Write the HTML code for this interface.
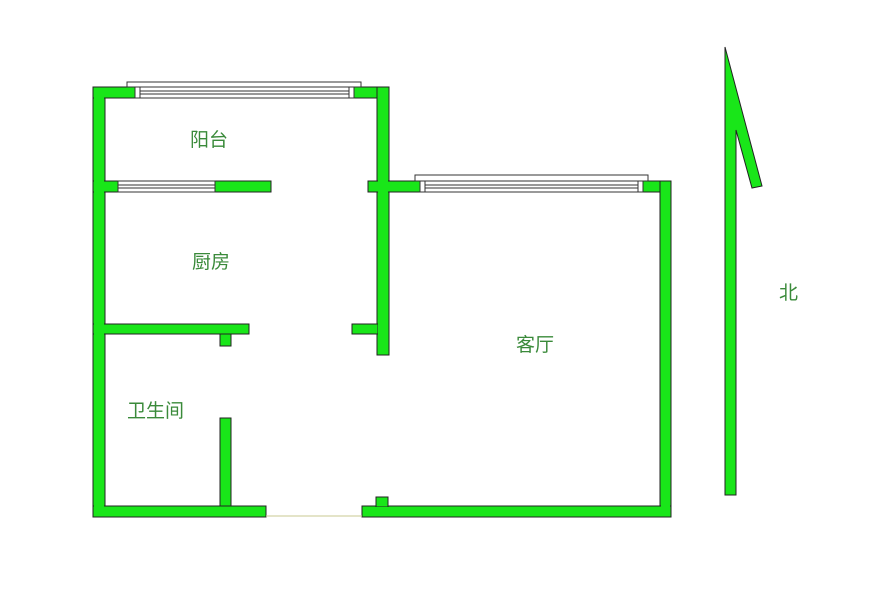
<!DOCTYPE html>
<html><head><meta charset="utf-8"><style>
body{margin:0;background:#fff;}
svg text{font-family:"Liberation Sans","Noto Sans CJK SC",sans-serif;fill:#3a8a3a;font-size:19px;}
</style></head><body>
<svg width="871" height="600" viewBox="0 0 871 600" xmlns="http://www.w3.org/2000/svg">
<g fill="#19e619" stroke="#222" stroke-width="1">
<rect x="93" y="87" width="12" height="430"/>
<rect x="93" y="87" width="42" height="11"/>
<rect x="354" y="87" width="35" height="11"/>
<rect x="377" y="87" width="12" height="268"/>
<rect x="368" y="181" width="52" height="11"/>
<rect x="215" y="181" width="56" height="11"/>
<rect x="93" y="181" width="25" height="11"/>
<rect x="643" y="181" width="28" height="11"/>
<rect x="660" y="181" width="11" height="336"/>
<rect x="93" y="324" width="156" height="10"/>
<rect x="220" y="334" width="11" height="12"/>
<rect x="352" y="324" width="26" height="10"/>
<rect x="220" y="418" width="11" height="92"/>
<rect x="93" y="506" width="173" height="11"/>
<rect x="362" y="506" width="309" height="11"/>
<rect x="376" y="497" width="12" height="10"/>
<polygon points="725,47 762,186 752,188 736,130 736,495 725,495"/>
</g>
<g fill="#19e619" stroke="none">
<rect x="94" y="88" width="10" height="428"/>
<rect x="94" y="507" width="171" height="9"/>
<rect x="363" y="507" width="307" height="9"/>
<rect x="661" y="182" width="9" height="334"/>
<rect x="378" y="88" width="10" height="266"/>
<rect x="94" y="325" width="154" height="8"/>
<rect x="94" y="182" width="23" height="9"/>
<rect x="369" y="182" width="50" height="9"/>
</g>
<g fill="#fff" stroke="#333" stroke-width="1">
<rect x="127" y="82" width="234" height="5"/>
<rect x="135" y="87" width="219" height="11"/>
<rect x="135" y="87" width="5" height="11"/>
<rect x="349" y="87" width="5" height="11"/>
<line x1="140" y1="91" x2="349" y2="91"/><line x1="140" y1="94" x2="349" y2="94"/>
<rect x="118" y="181" width="97" height="11"/>
<line x1="118" y1="185" x2="215" y2="185"/><line x1="118" y1="188" x2="215" y2="188"/>
<rect x="415" y="175" width="233" height="6"/>
<rect x="420" y="181" width="223" height="11"/>
<rect x="420" y="181" width="5" height="11"/>
<rect x="638" y="181" width="5" height="11"/>
<line x1="425" y1="185" x2="638" y2="185"/><line x1="425" y1="188" x2="638" y2="188"/>
</g>
<line x1="266" y1="516" x2="362" y2="516" stroke="#c8c890" stroke-width="1"/>
<text x="190" y="146">阳台</text>
<text x="192" y="268">厨房</text>
<text x="127" y="417">卫生间</text>
<text x="516" y="351">客厅</text>
<text x="779" y="299">北</text>
</svg>
</body></html>
